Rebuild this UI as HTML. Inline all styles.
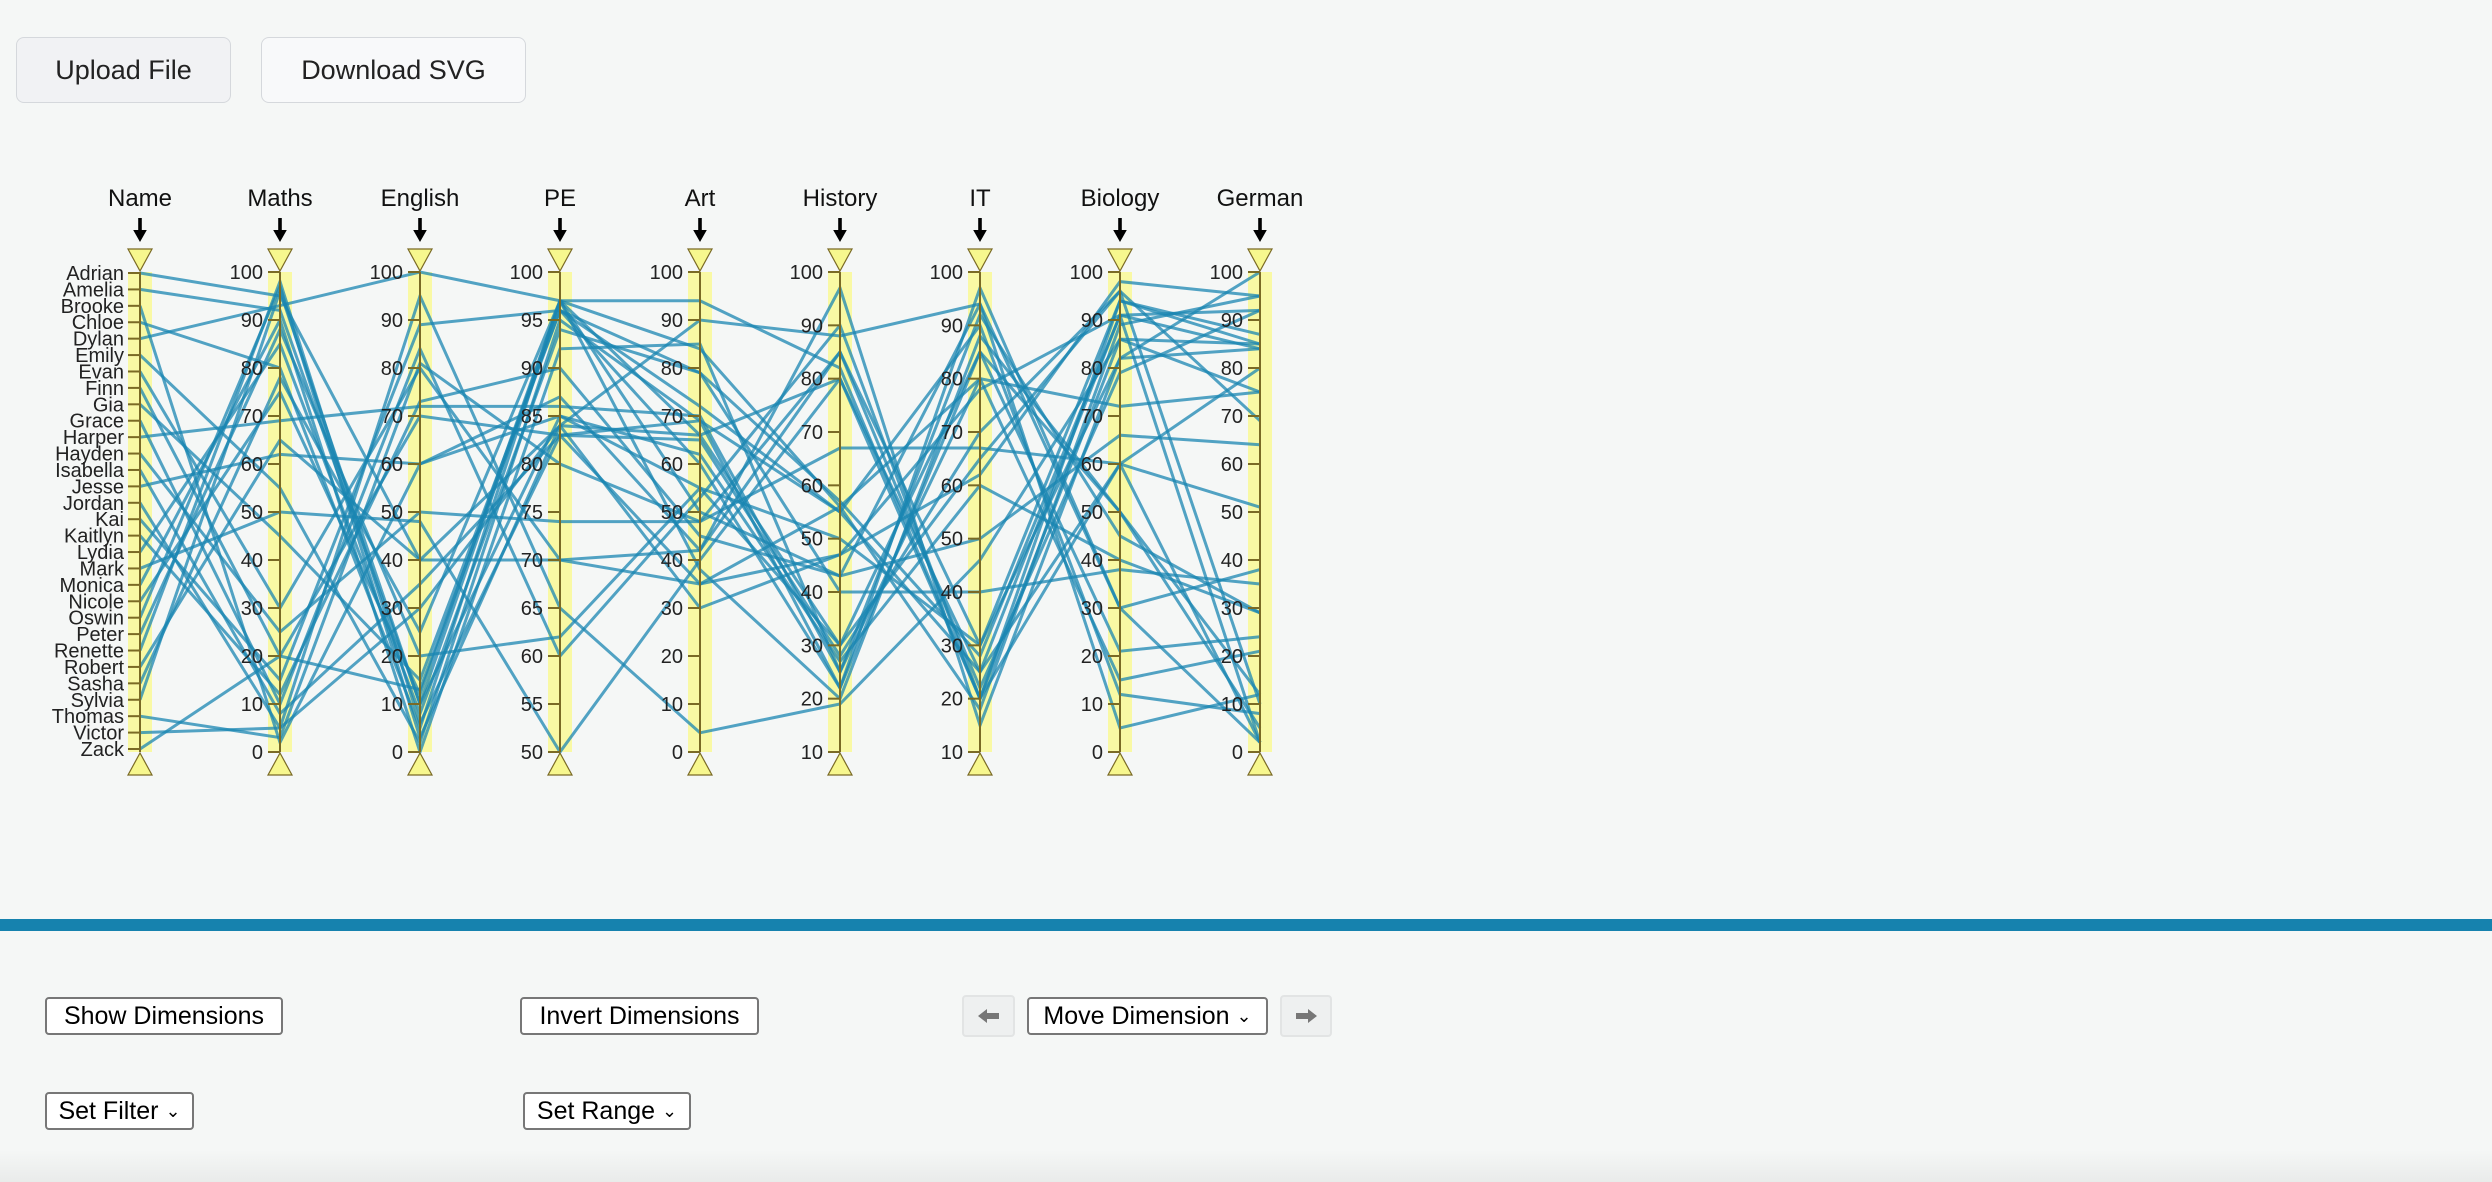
<!DOCTYPE html>
<html><head><meta charset="utf-8"><style>
html,body{margin:0;padding:0;background:#f5f7f6;width:2492px;height:1182px;overflow:hidden;font-family:"Liberation Sans",sans-serif;}
.btn{position:absolute;box-sizing:border-box;font-family:"Liberation Sans",sans-serif;color:#222;}
.top{border:1px solid #d5d8dc;border-radius:8px;font-size:27px;display:flex;align-items:center;justify-content:center;}
.ctl{border:2px solid #777;border-radius:4px;background:#fff;font-size:25px;display:flex;align-items:center;justify-content:center;color:#000;}
.arr{border:2px solid #e2e4e4;border-radius:4px;background:#eef0f0;display:flex;align-items:center;justify-content:center;}
</style></head><body>
<div class="btn top" style="left:16px;top:37px;width:215px;height:66px;background:#f1f2f4;">Upload File</div>
<div class="btn top" style="left:261px;top:37px;width:265px;height:66px;background:#f8f9fa;">Download SVG</div>
<svg id="chart" width="2492" height="900" style="position:absolute;left:0;top:0"></svg>
<div style="position:absolute;left:0;top:919px;width:2492px;height:12px;background:#1682ae;"></div>
<div class="btn ctl" style="left:45px;top:997px;width:238px;height:38px;">Show Dimensions</div>
<div class="btn ctl" style="left:520px;top:997px;width:239px;height:38px;">Invert Dimensions</div>
<div class="btn arr" style="left:962px;top:995px;width:53px;height:42px;"><svg width="22" height="16"><path d="M0,8 L9,1 V5 H21 V11 H9 V15 Z" fill="#777"/></svg></div>
<div class="btn ctl" style="left:1027px;top:997px;width:241px;height:38px;">Move Dimension&nbsp;<span style="font-size:18px">&#8964;</span></div>
<div class="btn arr" style="left:1280px;top:995px;width:52px;height:42px;"><svg width="22" height="16"><path d="M22,8 L13,1 V5 H1 V11 H13 V15 Z" fill="#777"/></svg></div>
<div class="btn ctl" style="left:45px;top:1092px;width:149px;height:38px;">Set Filter&nbsp;<span style="font-size:18px">&#8964;</span></div>
<div class="btn ctl" style="left:523px;top:1092px;width:168px;height:38px;">Set Range&nbsp;<span style="font-size:18px">&#8964;</span></div>
<div style="position:absolute;left:0;top:1150px;width:2492px;height:32px;background:linear-gradient(#f5f7f6,#e9ebea);"></div>
<script>
const names=["Adrian","Amelia","Brooke","Chloe","Dylan","Emily","Evan","Finn","Gia","Grace","Harper","Hayden","Isabella","Jesse","Jordan","Kai","Kaitlyn","Lydia","Mark","Monica","Nicole","Oswin","Peter","Renette","Robert","Sasha","Sylvia","Thomas","Victor","Zack"];
const dims=["Maths","English","PE","Art","History","IT","Biology","German"];
const maths=[95,92,2,80,93,55,30,20,45,10,69,25,8,62,5,15,12,85,50,90,75,97,88,98,65,78,96,3,5,20];
const english=[40,10,60,5,100,2,80,70,15,84,72,50,35,60,95,89,73,8,48,0,12,3,20,6,40,25,10,81,30,13];
const pe=[84,97,85,97,97,95,70,83,96,60,86,74,83,87,65,96,90,94,50,92,97,84,62,83,70,97,85,80,84,96];
const art=[90,94,55,84,66,69,42,35,79,53,70,48,65,42,4,60,45,79,40,85,50,66,55,69,35,38,62,48,30,72];
const history=[88,82,30,56,80,55,97,47,40,90,25,67,28,85,19,22,43,57,80,25,43,30,50,22,56,20,27,85,47,55];
const it=[94,20,85,80,25,90,15,62,40,20,92,67,70,22,46,85,50,28,20,80,94,65,30,97,18,88,60,30,78,25];
const biology=[30,86,50,72,91,12,82,98,38,94,45,60,96,79,86,21,66,91,60,15,5,96,94,30,89,50,40,82,91,60];
const german=[38,75,12,75,2,8,100,95,35,87,29,51,10,92,85,24,64,84,80,21,12,69,85,2,95,5,29,84,92,2];
const series=[maths,english,pe,art,history,it,biology,german];
const domains=[[0,100],[0,100],[50,100],[0,100],[10,100],[10,100],[0,100],[0,100]];
const tickSets=[[0,10,20,30,40,50,60,70,80,90,100],[0,10,20,30,40,50,60,70,80,90,100],[50,55,60,65,70,75,80,85,90,95,100],[0,10,20,30,40,50,60,70,80,90,100],[10,20,30,40,50,60,70,80,90,100],[10,20,30,40,50,60,70,80,90,100],[0,10,20,30,40,50,60,70,80,90,100],[0,10,20,30,40,50,60,70,80,90,100]];
const NS="http://www.w3.org/2000/svg";
const svg=document.getElementById('chart');
const Y0=272,Y1=752;
function axisX(i){return 140+i*140;}
function nameY(i){return 273+i*(476/29);}
function valY(d,v){const [a,b]=domains[d];return Y1-(v-a)/(b-a)*(Y1-Y0);}
function mk(tag,attrs,parent){const e=document.createElementNS(NS,tag);for(const k in attrs)e.setAttribute(k,attrs[k]);(parent||svg).appendChild(e);return e;}
const allLabels=["Name"].concat(dims);
allLabels.forEach((lab,i)=>{
  const r=mk('rect',{x:axisX(i)-12,y:Y0,width:24,height:Y1-Y0,fill:'#f9f9a4'});
  
  
});
const lg=mk('g',{});
names.forEach((n,s)=>{
  let pts=[[axisX(0),nameY(s)]];
  series.forEach((arr,d)=>pts.push([axisX(d+1),valY(d,arr[s])]));
  const p=mk('polyline',{points:pts.map(q=>q.join(',')).join(' '),fill:'none',stroke:'#1a86b2','stroke-opacity':0.75,'stroke-width':3},lg);
  
  
});
allLabels.forEach((lab,i)=>{
  const x=axisX(i);
  const g=mk('g',{});
  
  
  const t=mk('text',{x:x,y:206,'text-anchor':'middle','font-size':24,fill:'#111','font-family':'Liberation Sans, sans-serif'},g);
  t.textContent=lab;
  
  
  const ar=mk('path',{d:`M${x-1.8},218 h3.6 v12 h5 l-6.8,12 l-6.8,-12 h5 z`,fill:'#000'},g);
  
  
  mk('line',{x1:x,y1:Y0,x2:x,y2:Y1,stroke:'#7a6a25','stroke-width':2},g);
  if(i===0){
    names.forEach((n,s)=>{
      const y=nameY(s);
      mk('line',{x1:x-12,y1:y,x2:x,y2:y,stroke:'#7a6a25','stroke-width':2},g);
      const tx=mk('text',{x:x-16,y:y+7,'text-anchor':'end','font-size':20,fill:'#222','font-family':'Liberation Sans, sans-serif'},g);
      tx.textContent=n;
    });
  } else {
    tickSets[i-1].forEach(v=>{
      const y=valY(i-1,v);
      mk('line',{x1:x-12,y1:y,x2:x,y2:y,stroke:'#7a6a25','stroke-width':2},g);
      const tx=mk('text',{x:x-17,y:y+7,'text-anchor':'end','font-size':20,fill:'#222','font-family':'Liberation Sans, sans-serif'},g);
      tx.textContent=v;
    });
  }
  const tt=mk('path',{d:`M${x-12},249 h24 l-12,22 z`,fill:'#f7f78e',stroke:'#7a6a25','stroke-width':1.2},g);
  
  
  const bt=mk('path',{d:`M${x-12},775 h24 l-12,-22 z`,fill:'#f7f78e',stroke:'#7a6a25','stroke-width':1.2},g);
  
  
});
</script>
</body></html>
